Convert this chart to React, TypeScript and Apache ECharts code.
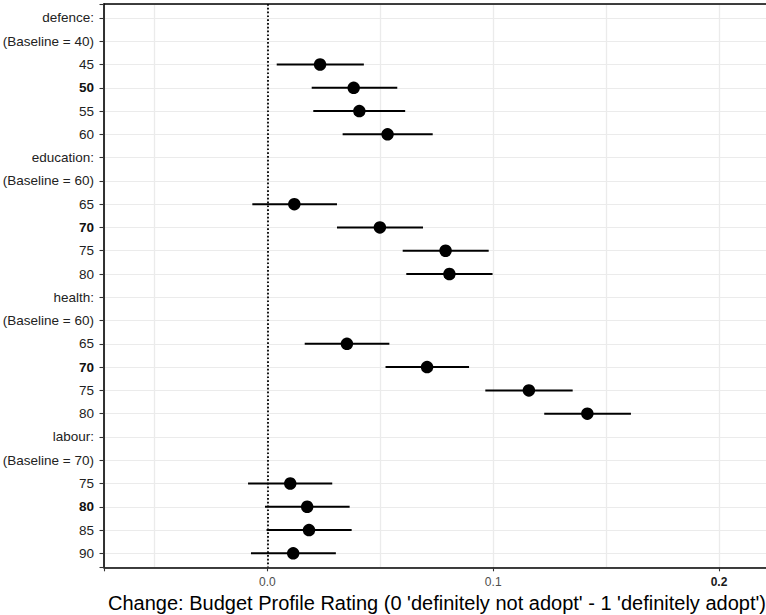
import React, { useEffect, useRef } from 'react';
import * as echarts from 'echarts';

// Row labels (top to bottom)
const rowLabels = [
  'defence:', '(Baseline = 40)', '45', '50', '55', '60',
  'education:', '(Baseline = 60)', '65', '70', '75', '80',
  'health:', '(Baseline = 60)', '65', '70', '75', '80',
  'labour:', '(Baseline = 70)', '75', '80', '85', '90',
];
const boldRows = [3, 9, 15, 21];

// Point estimates and confidence bounds per row (null = header / baseline row)
const estimate = [
  null, null, 0.0233, 0.0382, 0.0407, 0.0532,
  null, null, 0.0119, 0.0498, 0.0789, 0.0806,
  null, null, 0.0352, 0.0707, 0.1158, 0.1417,
  null, null, 0.0101, 0.0176, 0.0184, 0.0114,
];
const lower = [
  null, null, 0.0041, 0.0196, 0.0203, 0.0333,
  null, null, -0.0067, 0.0308, 0.0599, 0.0615,
  null, null, 0.0165, 0.0523, 0.0965, 0.1226,
  null, null, -0.0086, -0.0011, -0.0004, -0.0073,
];
const upper = [
  null, null, 0.0427, 0.0575, 0.0610, 0.0732,
  null, null, 0.0308, 0.0689, 0.0980, 0.0997,
  null, null, 0.0540, 0.0893, 0.1352, 0.1610,
  null, null, 0.0287, 0.0364, 0.0373, 0.0303,
];

const xTickLabels = ['0.0', '0.1', '0.2'];
const boldXTicks = ['0.2'];
const xTitle = "Change: Budget Profile Rating (0 'definitely not adopt' - 1 'definitely adopt')";

const X_MIN = -0.0724;
const X_MAX = 0.2226;

export default function App() {
  const ref = useRef<HTMLDivElement>(null);

  useEffect(() => {
    document.body.style.margin = '0';
    const chart = echarts.init(ref.current as HTMLDivElement, null, { renderer: 'svg' });

    const points: number[][] = [];
    const bars: number[][] = [];
    estimate.forEach((v, i) => {
      if (v != null) {
        points.push([v, i]);
        bars.push([lower[i] as number, upper[i] as number, i]);
      }
    });

    const font = 'Liberation Sans, Arial, Helvetica, sans-serif';
    const frame = { show: true, onZero: false, lineStyle: { color: '#000', width: 1.6 } };

    const option: any = {
      animation: false,
      textStyle: { fontFamily: font },
      grid: {
        left: 104,
        right: -4,
        top: 4,
        bottom: 47.7,
        show: false,
        containLabel: false,
        outerBoundsMode: 'none',
      },
      xAxis: [
        {
          type: 'value',
          min: X_MIN,
          max: X_MAX,
          position: 'bottom',
          splitNumber: 6,
          minInterval: 0.05,
          maxInterval: 0.05,
          axisLine: frame,
          axisTick: { show: false },
          splitLine: { show: true, lineStyle: { color: '#ebebeb', width: 1.3 } },
          axisLabel: {
            margin: 9,
            fontSize: 12,
            color: '#4d4d4d',
            fontFamily: font,
            formatter: (v: number) => {
              const k = Math.round(v * 10);
              if (Math.abs(v * 10 - k) > 1e-6) return '';
              const lab = xTickLabels[k];
              if (lab == null) return '';
              return boldXTicks.includes(lab) ? `{b|${lab}}` : lab;
            },
            rich: { b: { fontWeight: 'bold', fontSize: 12, color: '#1a1a1a', fontFamily: font } },
          },
          name: xTitle,
          nameLocation: 'middle',
          nameGap: 25,
          nameTextStyle: { fontSize: 20, color: '#000', fontFamily: font },
        },
        {
          type: 'value',
          min: X_MIN,
          max: X_MAX,
          position: 'bottom',
          splitNumber: 3,
          minInterval: 0.1,
          maxInterval: 0.1,
          axisLine: { show: false, onZero: false },
          axisTick: { show: true, length: 4, lineStyle: { color: '#333', width: 1.1 } },
          axisLabel: { show: false },
          splitLine: { show: false },
        },
        {
          type: 'value',
          min: X_MIN,
          max: X_MAX,
          position: 'top',
          axisLine: frame,
          axisTick: { show: false },
          axisLabel: { show: false },
          splitLine: { show: false },
        },
      ],
      yAxis: {
        type: 'value',
        inverse: true,
        min: -0.6,
        max: 23.6,
        splitNumber: 24,
        minInterval: 1,
        maxInterval: 1,
        axisLine: frame,
        axisTick: { show: true, length: 4.5, lineStyle: { color: '#333', width: 1.1 } },
        splitLine: { show: true, lineStyle: { color: '#ebebeb', width: 1 } },
        axisLabel: {
          margin: 10,
          fontSize: 13.5,
          color: '#222',
          fontFamily: font,
          formatter: (v: number) => {
            const k = Math.round(v);
            if (Math.abs(v - k) > 1e-6 || k < 0 || k >= rowLabels.length) return '';
            const lab = rowLabels[k];
            return boldRows.includes(k) ? `{b|${lab}}` : lab;
          },
          rich: { b: { fontWeight: 'bold', fontSize: 13.5, color: '#111', fontFamily: font } },
        },
      },
      series: [
        {
          type: 'custom',
          xAxisIndex: 0,
          yAxisIndex: 0,
          data: bars,
          encode: { x: [0, 1], y: 2 },
          z: 3,
          renderItem: (_params: any, api: any) => {
            const a = api.coord([api.value(0), api.value(2)]);
            const b = api.coord([api.value(1), api.value(2)]);
            return {
              type: 'line',
              shape: { x1: a[0], y1: a[1], x2: b[0], y2: b[1] },
              style: { stroke: '#000', lineWidth: 2 },
            };
          },
        },
        {
          type: 'scatter',
          xAxisIndex: 0,
          yAxisIndex: 0,
          data: points,
          symbol: 'circle',
          symbolSize: 12.5,
          itemStyle: { color: '#000', opacity: 1 },
          z: 4,
          markLine: {
            silent: true,
            symbol: 'none',
            label: { show: false },
            lineStyle: { color: '#000', width: 1.8, type: [1.7, 2.1], opacity: 1 },
            data: [{ xAxis: 0 }],
          },
        },
      ],
    };

    chart.setOption(option);
    return () => chart.dispose();
  }, []);

  return <div ref={ref} style={{ width: 766, height: 615 }} />;
}
